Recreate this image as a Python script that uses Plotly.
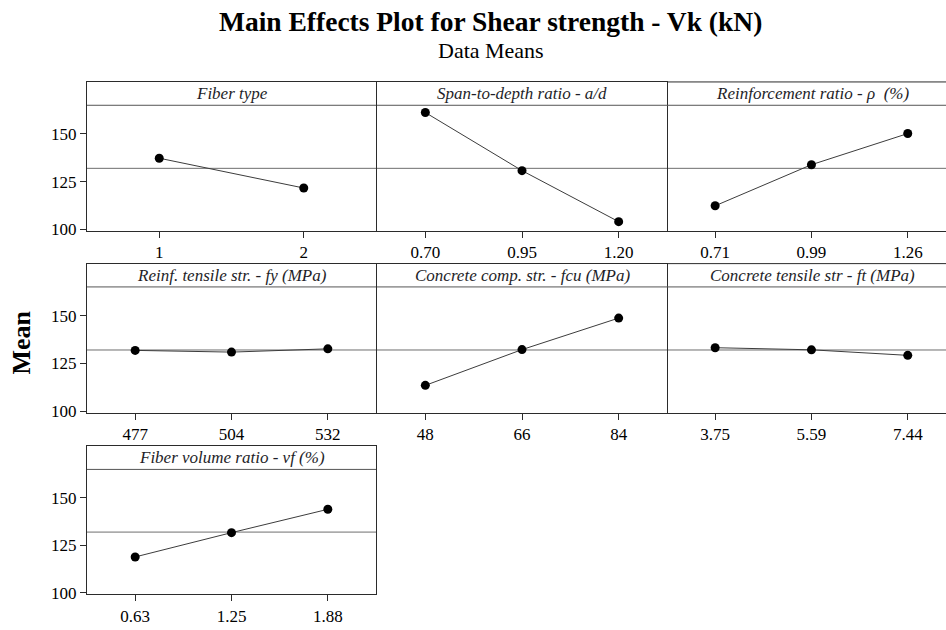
import plotly.graph_objects as go

# ---- data ----
factor_names = [
    "Fiber type",
    "Span-to-depth ratio - a/d",
    "Reinforcement ratio - ρ  (%)",
    "Reinf. tensile str. - fy (MPa)",
    "Concrete comp. str. - fcu (MPa)",
    "Concrete tensile str - ft (MPa)",
    "Fiber volume ratio - vf (%)",
]
level_labels = [
    ["1", "2"],
    ["0.70", "0.95", "1.20"],
    ["0.71", "0.99", "1.26"],
    ["477", "504", "532"],
    ["48", "66", "84"],
    ["3.75", "5.59", "7.44"],
    ["0.63", "1.25", "1.88"],
]
level_means = [
    [137.3, 121.7],
    [161.2, 130.8, 104.1],
    [112.4, 133.9, 150.2],
    [131.8, 130.9, 132.6],
    [113.5, 132.2, 148.7],
    [133.2, 132.1, 129.2],
    [118.9, 131.7, 144.0],
]
grand_mean = 132.0
y_ticks = [100, 125, 150]

# ---- layout geometry (pixels) ----
W, H = 946, 630
col_px = [(87, 376), (377, 667), (667, 946)]
row_px = [(83, 234), (267, 418), (452, 602)]
right_spacing = 96.3
y_lo, y_hi = 99.2, 177.2
header_y = 165.0

FONT = "Liberation Serif"
AX = "#2b2b2b"

fig = go.Figure()
for i, (name, labs, vals) in enumerate(zip(factor_names, level_labels, level_means)):
    r, c = divmod(i, 3)
    n = i + 1
    nl = len(labs)
    xs = list(range(nl))
    xa = "x" if n == 1 else f"x{n}"
    ya = "y" if n == 1 else f"y{n}"
    fig.add_trace(go.Scatter(
        x=xs, y=vals, mode="lines+markers", xaxis=xa, yaxis=ya,
        line=dict(color="#3c3c3c", width=1),
        marker=dict(color="black", size=9),
        showlegend=False, hoverinfo="skip",
    ))
    cx0, cx1 = col_px[c]
    ry0, ry1 = row_px[r]
    if c < 2:
        xr = [-0.5, nl - 0.5]
    else:
        xr = [-0.5, -0.5 + (cx1 - cx0) / right_spacing]
    key = "" if n == 1 else str(n)
    fig.layout["xaxis" + key] = dict(
        domain=[cx0 / W, cx1 / W], anchor=ya, range=xr,
        tickvals=xs, ticktext=labs, ticks="outside", ticklen=6,
        tickcolor=AX, showline=True, linecolor=AX, linewidth=1,
        mirror=True if c < 2 else False, showgrid=False, zeroline=False,
        tickfont=dict(family=FONT, size=17, color="black"), fixedrange=True,
    )
    fig.layout["yaxis" + key] = dict(
        domain=[1 - ry1 / H, 1 - ry0 / H], anchor=xa, range=[y_lo, y_hi],
        tickvals=y_ticks if c == 0 else [], ticks="outside" if c == 0 else "",
        ticklen=6, tickcolor=AX, showticklabels=(c == 0),
        showline=(c < 2), linecolor=AX, linewidth=1, mirror=(c < 2),
        showgrid=False, zeroline=False,
        tickfont=dict(family=FONT, size=17, color="black"), fixedrange=True,
    )
    if c == 2:
        fig.add_shape(type="line", xref=f"{xa} domain", yref=f"{ya} domain",
                      x0=0, x1=1, y0=1, y1=1, line=dict(color=AX, width=1))
    fig.add_shape(type="line", xref=f"{xa} domain", yref=ya,
                  x0=0, x1=1, y0=header_y, y1=header_y,
                  line=dict(color="#555555", width=1))
    fig.add_shape(type="line", xref=f"{xa} domain", yref=ya,
                  x0=0, x1=1, y0=grand_mean, y1=grand_mean,
                  line=dict(color="#6e6e6e", width=1), layer="below")
    hx = 0.5 if c < 2 else (290 / 2) / (cx1 - cx0)
    fig.add_annotation(text=f"<i>{name}</i>", xref=f"{xa} domain", yref=ya,
                       x=hx, y=(header_y + y_hi) / 2, showarrow=False,
                       font=dict(family=FONT, size=17, color="#1e1e28"),
                       xanchor="center", yanchor="middle")

fig.add_annotation(text="<b>Main Effects Plot for Shear strength - Vk (kN)</b>",
                   xref="paper", yref="paper", x=490 / W, y=1 - 22 / H,
                   showarrow=False, xanchor="center", yanchor="middle",
                   font=dict(family=FONT, size=27.5, color="black"))
fig.add_annotation(text="Data Means", xref="paper", yref="paper",
                   x=491 / W, y=1 - 51 / H, showarrow=False,
                   xanchor="center", yanchor="middle",
                   font=dict(family=FONT, size=22, color="black"))
fig.add_annotation(text="<b>Mean</b>", xref="paper", yref="paper",
                   x=22 / W, y=1 - 347 / H, showarrow=False, textangle=-90,
                   xanchor="center", yanchor="middle",
                   font=dict(family=FONT, size=26, color="black"))

fig.update_layout(width=W, height=H, margin=dict(l=0, r=0, t=0, b=0),
                  paper_bgcolor="white", plot_bgcolor="white")
fig.write_html("out.html", config={"displayModeBar": False},
               post_script="document.body.style.margin='0';"
                           "document.body.style.overflow='hidden';")
